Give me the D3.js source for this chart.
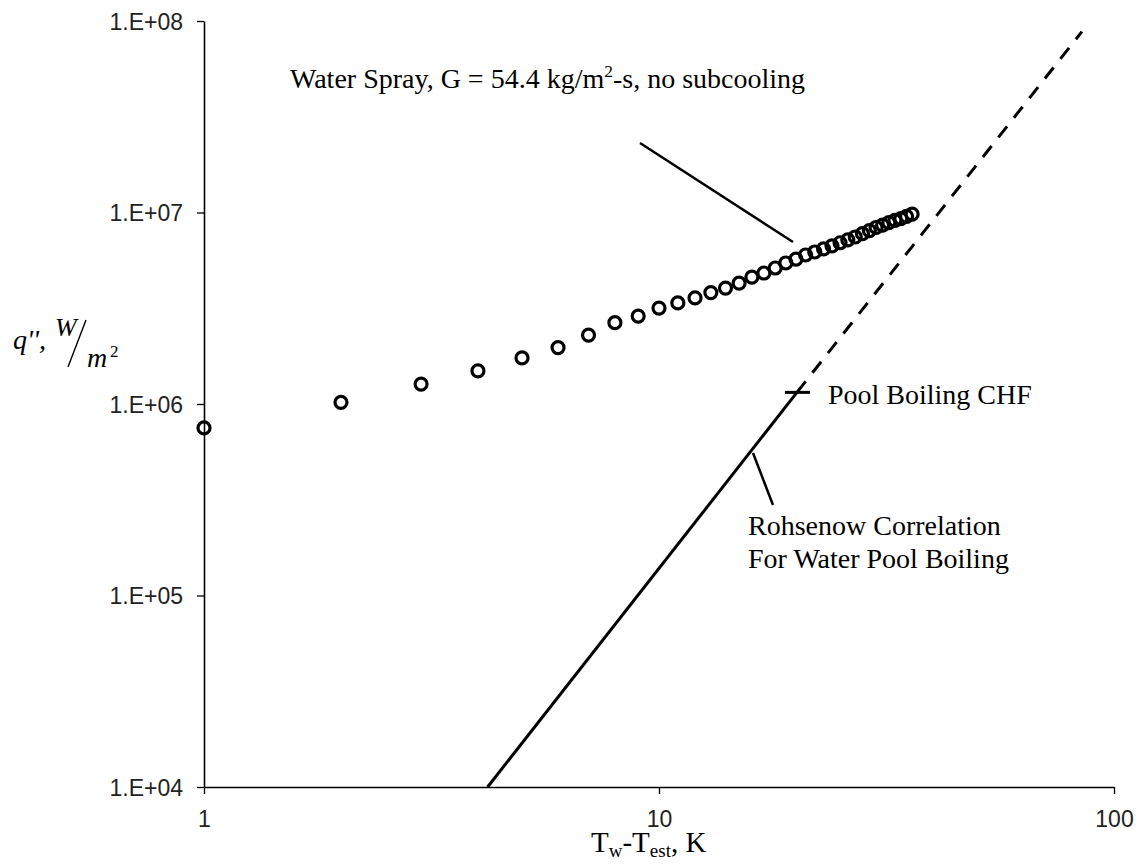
<!DOCTYPE html>
<html>
<head>
<meta charset="utf-8">
<script src="https://cdn.jsdelivr.net/npm/d3@7"></script>
<style>
  body { margin: 0; background: #fff; }
</style>
</head>
<body>
<svg id="chart" width="1141" height="867"></svg>
<script>
// Water spray data, wall superheat (K) vs heat flux (W/m2)
const sprayDT = [1, 2, 3, 4, 5, 6, 7, 8, 9, 10, 11, 12, 13, 14, 15, 16, 17, 18,
  19, 20, 21, 22, 23, 24, 25, 26, 27, 28, 29, 30, 31, 32, 33, 34, 35, 36];
const sprayQ = [7.5e5, 1.02e6, 1.27e6, 1.49e6, 1.74e6, 1.97e6, 2.29e6, 2.66e6, 2.88e6,
  3.17e6, 3.37e6, 3.58e6, 3.82e6, 4.03e6, 4.28e6, 4.6e6, 4.83e6, 5.13e6, 5.45e6,
  5.71e6, 6.0e6, 6.22e6, 6.45e6, 6.7e6, 6.95e6, 7.2e6, 7.45e6, 7.75e6, 8.05e6,
  8.35e6, 8.6e6, 8.85e6, 9.1e6, 9.3e6, 9.55e6, 9.8e6];

// Rohsenow correlation, solid up to pool boiling CHF then dashed
const rohsenowSolid = [[4.2, 1e4], [20.1, 1.15e6]];
const rohsenowDashed = [[20.1, 1.15e6], [85, 8.8e7]];
const chfPoint = [20.1, 1.15e6];

const xMajorTicks = [1, 10, 100];
const xTickLabels = ['1', '10', '100'];
const yMajorTicks = [1e4, 1e5, 1e6, 1e7, 1e8];
const yTickLabels = ['1.E+04', '1.E+05', '1.E+06', '1.E+07', '1.E+08'];

// Style values
const inkColor = '#000';
const tickTextColor = '#222';
const serif = '"Liberation Serif", "Times New Roman", serif';
const sans = '"Liberation Sans", Arial, sans-serif';
const annSize = 28;

const svg = d3.select('#chart');

const x = d3.scaleLog().domain([1, 100]).range([204, 1114]);
const y = d3.scaleLog().domain([1e4, 1e8]).range([787, 21]);

// minor ticks at 2..9 of every decade
const minorOf = (majors) => {
  const out = [];
  majors.slice(0, -1).forEach((m) => {
    for (let k = 2; k <= 9; k++) out.push(m * k);
  });
  return out;
};

// Axes
const xAxisG = svg.append('g').attr('transform', `translate(0,${y(1e4)})`);
xAxisG.call(d3.axisBottom(x).tickValues(minorOf(xMajorTicks)).tickSize(5).tickFormat(''));
xAxisG.call(
  d3.axisBottom(x)
    .tickValues(xMajorTicks)
    .tickSize(7)
    .tickSizeOuter(0)
    .tickFormat((d, i) => xTickLabels[i])
);

const yAxisG = svg.append('g').attr('transform', `translate(${x(1)},0)`);
yAxisG.call(d3.axisLeft(y).tickValues(minorOf(yMajorTicks)).tickSize(4).tickFormat(''));
yAxisG.call(
  d3.axisLeft(y)
    .tickValues(yMajorTicks)
    .tickSize(7)
    .tickSizeOuter(0)
    .tickFormat((d, i) => yTickLabels[i])
);

svg.selectAll('.domain').attr('stroke', inkColor).attr('stroke-width', 1.6);
svg.selectAll('.tick line').attr('stroke', inkColor).attr('stroke-width', 1.3);

xAxisG.selectAll('text')
  .attr('font-family', sans)
  .attr('font-size', 23)
  .attr('fill', tickTextColor)
  .attr('y', 24)
  .attr('dy', '0.71em');

yAxisG.selectAll('text')
  .attr('font-family', sans)
  .attr('font-size', 23)
  .attr('fill', tickTextColor)
  .attr('x', -21)
  .attr('dy', '0.36em');

// Rohsenow line
const line = d3.line().x((d) => x(d[0])).y((d) => y(d[1]));
svg.append('path')
  .attr('d', line(rohsenowSolid))
  .attr('fill', 'none')
  .attr('stroke', inkColor)
  .attr('stroke-width', 3);
svg.append('path')
  .attr('d', line(rohsenowDashed))
  .attr('fill', 'none')
  .attr('stroke', inkColor)
  .attr('stroke-width', 3)
  .attr('stroke-dasharray', '14,11');

// Pool boiling CHF marker
svg.append('line')
  .attr('x1', x(chfPoint[0]) - 12)
  .attr('x2', x(chfPoint[0]) + 13)
  .attr('y1', y(chfPoint[1]))
  .attr('y2', y(chfPoint[1]))
  .attr('stroke', inkColor)
  .attr('stroke-width', 3);

// Spray data points
svg.append('g')
  .selectAll('circle')
  .data(sprayDT.map((d, i) => [d, sprayQ[i]]))
  .enter()
  .append('circle')
  .attr('cx', (d) => x(d[0]))
  .attr('cy', (d) => y(d[1]))
  .attr('r', 6)
  .attr('fill', 'none')
  .attr('stroke', inkColor)
  .attr('stroke-width', 3.2);

// Annotations
svg.append('line')
  .attr('x1', 640).attr('y1', 143)
  .attr('x2', 793).attr('y2', 242)
  .attr('stroke', inkColor).attr('stroke-width', 2.5);

const sprayText = svg.append('text')
  .attr('x', 290).attr('y', 88)
  .attr('font-family', serif)
  .attr('font-size', annSize)
  .attr('fill', inkColor);
sprayText.append('tspan').text('Water Spray, G = 54.4 kg/m');
sprayText.append('tspan').attr('font-size', annSize * 0.62).attr('dy', -11).text('2');
sprayText.append('tspan').attr('dy', 11).text('-s, no subcooling');

svg.append('text')
  .attr('x', 828).attr('y', 404)
  .attr('font-family', serif)
  .attr('font-size', annSize)
  .attr('fill', inkColor)
  .text('Pool Boiling CHF');

svg.append('line')
  .attr('x1', 753).attr('y1', 453)
  .attr('x2', 773).attr('y2', 505)
  .attr('stroke', inkColor).attr('stroke-width', 2.5);

const rohText = svg.append('text')
  .attr('font-family', serif)
  .attr('font-size', annSize)
  .attr('fill', inkColor);
rohText.append('tspan').attr('x', 748).attr('y', 535).text('Rohsenow Correlation');
rohText.append('tspan').attr('x', 748).attr('y', 568).text('For Water Pool Boiling');

// X axis title
const xTitle = svg.append('text')
  .attr('x', 591).attr('y', 852)
  .attr('font-family', serif)
  .attr('font-size', 29)
  .attr('fill', inkColor);
xTitle.append('tspan').text('T');
xTitle.append('tspan').attr('font-size', 19).attr('dy', 5).text('w');
xTitle.append('tspan').attr('dy', -5).text('-T');
xTitle.append('tspan').attr('font-size', 19).attr('dy', 5).text('est');
xTitle.append('tspan').attr('dy', -5).text(', K');

// Y axis title: q'', W/m2 as a slanted fraction
const yTitle = svg.append('g')
  .attr('font-family', serif)
  .attr('font-style', 'italic')
  .attr('fill', inkColor);
yTitle.append('text').attr('x', 13).attr('y', 349).attr('font-size', 28).text("q'',");
yTitle.append('text').attr('x', 55).attr('y', 336).attr('font-size', 26).text('W');
yTitle.append('line')
  .attr('x1', 68).attr('y1', 367)
  .attr('x2', 86).attr('y2', 320)
  .attr('stroke', inkColor).attr('stroke-width', 1.4);
yTitle.append('text').attr('x', 87).attr('y', 367).attr('font-size', 28).text('m');
yTitle.append('text').attr('x', 110).attr('y', 357).attr('font-size', 17)
  .attr('font-style', 'normal').text('2');
</script>
</body>
</html>
